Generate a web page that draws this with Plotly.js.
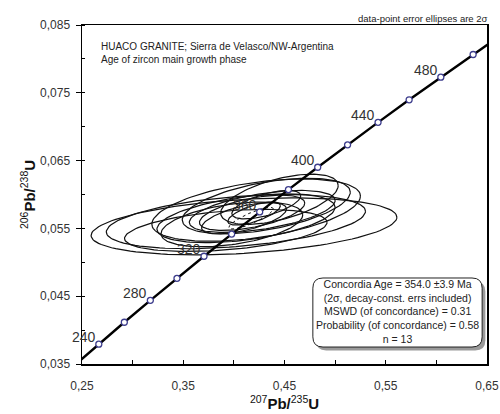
<!DOCTYPE html>
<html>
<head>
<meta charset="utf-8">
<script src="https://cdn.plot.ly/plotly-3.0.1.min.js"></script>
<style>html,body{margin:0;padding:0;background:#fff}#chart{width:500px;height:414px}</style>
</head>
<body>
<div id="chart"></div>
<script>
// Concordia curve points (age in Ma, 207Pb/235U, 206Pb/238U)
const curveAges   = [220, 240, 260, 280, 300, 320, 340, 360, 380, 400, 420, 440, 460, 480, 500, 520];
const curveX      = [0.2419, 0.2666, 0.2918, 0.3175, 0.3438, 0.3705, 0.3978, 0.4255, 0.4539, 0.4828, 0.5123, 0.5424, 0.5731, 0.6044, 0.6363, 0.6688];
const curveY      = [0.03472, 0.03793, 0.04116, 0.04439, 0.04764, 0.05089, 0.05416, 0.05743, 0.06072, 0.06402, 0.06732, 0.07064, 0.07397, 0.07730, 0.08065, 0.08401];
const markerAges  = [240, 260, 280, 300, 320, 340, 360, 380, 400, 420, 440, 460, 480, 500];
const labelAges   = [240, 280, 320, 360, 400, 440, 480];

// Data-point error ellipses (2σ): centre, half-widths, correlation
const ellCX  = [0.410, 0.402, 0.422, 0.432, 0.412, 0.428, 0.398, 0.445, 0.418, 0.410, 0.432, 0.420, 0.392];
const ellCY  = [0.0553, 0.0560, 0.0577, 0.0583, 0.0565, 0.0575, 0.0556, 0.0593, 0.0573, 0.0565, 0.0585, 0.0572, 0.0547];
const ellSX  = [0.151, 0.128, 0.103, 0.083, 0.088, 0.072, 0.070, 0.058, 0.052, 0.042, 0.034, 0.026, 0.100];
const ellSY  = [0.0042, 0.0040, 0.0046, 0.0041, 0.0036, 0.0031, 0.0033, 0.0037, 0.0026, 0.0023, 0.0021, 0.0017, 0.0031];
const ellRho = [0.32, 0.38, 0.45, 0.50, 0.45, 0.52, 0.42, 0.55, 0.55, 0.60, 0.62, 0.68, 0.38];

// Concordia age ellipse
const ageCX = 0.417, ageCY = 0.0565, ageSX = 0.022, ageSY = 0.0016, ageRho = 0.85;

const xTickVals = [0.25, 0.35, 0.45, 0.55, 0.65];
const yTickVals = [0.035, 0.045, 0.055, 0.065, 0.075, 0.085];

function ellipse(cx, cy, sx, sy, rho) {
  const xs = [], ys = [];
  const n = 120, k = Math.sqrt(1 - rho * rho);
  for (let i = 0; i <= n; i++) {
    const t = 2 * Math.PI * i / n;
    xs.push(cx + sx * Math.cos(t));
    ys.push(cy + sy * (rho * Math.cos(t) + k * Math.sin(t)));
  }
  return {xs, ys};
}

const traces = [];
for (let i = 0; i < ellCX.length; i++) {
  const e = ellipse(ellCX[i], ellCY[i], ellSX[i], ellSY[i], ellRho[i]);
  traces.push({x: e.xs, y: e.ys, mode: 'lines', line: {color: '#111', width: 1.2}, hoverinfo: 'skip', showlegend: false});
}
const ea = ellipse(ageCX, ageCY, ageSX, ageSY, ageRho);
traces.push({x: ea.xs, y: ea.ys, mode: 'lines', line: {color: '#111', width: 1, dash: 'dot'}, hoverinfo: 'skip', showlegend: false});

traces.push({x: curveX, y: curveY, mode: 'lines', line: {color: '#000', width: 2.4}, showlegend: false, hoverinfo: 'skip'});
const mx = [], my = [];
markerAges.forEach(a => { const j = curveAges.indexOf(a); mx.push(curveX[j]); my.push(curveY[j]); });
traces.push({x: mx, y: my, mode: 'markers', marker: {symbol: 'circle', size: 6, color: '#fff', line: {color: '#3c3c8c', width: 1.3}}, showlegend: false});

const annotations = labelAges.map(a => {
  const j = curveAges.indexOf(a);
  return {x: curveX[j], y: curveY[j], xref: 'x', yref: 'y', text: String(a), showarrow: false,
    xanchor: 'right', yanchor: 'bottom', xshift: -1, yshift: -3,
    font: {family: 'Liberation Sans, Arial, sans-serif', size: 14, color: '#333'}};
});
annotations.push({xref: 'paper', yref: 'paper', x: 0.042, y: 0.9174, xanchor: 'left', yanchor: 'middle', align: 'left', showarrow: false,
  text: 'HUACO GRANITE; Sierra de Velasco/NW-Argentina<br>Age of zircon main growth phase',
  font: {family: 'Liberation Sans, Arial, sans-serif', size: 10, color: '#222'}});
annotations.push({xref: 'paper', yref: 'paper', x: 1.007, y: 1.0177, xanchor: 'right', yanchor: 'middle', showarrow: false,
  text: 'data-point error ellipses are 2σ',
  font: {family: 'Liberation Sans, Arial, sans-serif', size: 9.5, color: '#222'}});
annotations.push({xref: 'paper', yref: 'paper', x: 0.778, y: 0.1534, xanchor: 'center', yanchor: 'middle', align: 'center', showarrow: false,
  text: 'Concordia Age = 354.0 ±3.9 Ma<br>(2σ, decay-const. errs included)<br>MSWD (of concordance) = 0.31<br>Probability (of concordance) = 0.58<br>n = 13',
  font: {family: 'Liberation Sans, Arial, sans-serif', size: 10.5, color: '#222'}});

function roundRect(x0, y0, x1, y1, rx, ry) {
  return `M${x0+rx},${y0} L${x1-rx},${y0} Q${x1},${y0} ${x1},${y0+ry} L${x1},${y1-ry} Q${x1},${y1} ${x1-rx},${y1} L${x0+rx},${y1} Q${x0},${y1} ${x0},${y1-ry} L${x0},${y0+ry} Q${x0},${y0} ${x0+rx},${y0} Z`;
}
const bx0 = 0.570, bx1 = 0.988, by0 = 0.0501, by1 = 0.2537, rx = 0.025, ry = 0.03;
const shapes = [
  {type: 'path', xref: 'paper', yref: 'paper', path: roundRect(bx0 + 0.008, by0 - 0.010, bx1 + 0.008, by1 - 0.010, rx, ry), fillcolor: '#9a9a9a', line: {width: 0}},
  {type: 'path', xref: 'paper', yref: 'paper', path: roundRect(bx0, by0, bx1, by1, rx, ry), fillcolor: '#fff', line: {color: '#222', width: 1}}
];

const font = {family: 'Liberation Sans, Arial, sans-serif', size: 12, color: '#333'};
const layout = {
  width: 500, height: 414,
  margin: {l: 82, r: 13, t: 25, b: 50},
  paper_bgcolor: '#fff', plot_bgcolor: '#fff',
  separators: ',.',
  font: font,
  xaxis: {range: [0.25, 0.65], tickvals: xTickVals, tickformat: '.2f', showgrid: false, zeroline: false,
    showline: true, mirror: true, linecolor: '#000', linewidth: 1.5,
    ticks: 'inside', ticklen: 4, tickcolor: '#000', ticklabelstandoff: 10,
    minor: {dtick: 0.05, tick0: 0.25, ticks: 'inside', ticklen: 4, tickcolor: '#000', showgrid: false},
    title: {text: '<sup>207</sup><b>Pb/</b><sup>235</sup><b>U</b>', font: {family: 'Liberation Sans, Arial, sans-serif', size: 15, color: '#111'}, standoff: 6}},
  yaxis: {range: [0.035, 0.085], tickvals: yTickVals, tickformat: '.3f', showgrid: false, zeroline: false,
    showline: true, mirror: true, linecolor: '#000', linewidth: 1.5,
    ticks: 'outside', ticklen: 5, tickcolor: '#000', ticklabelstandoff: 3,
    minor: {dtick: 0.005, tick0: 0.035, ticks: 'inside', ticklen: 3, tickcolor: '#000', showgrid: false},
    title: {text: '<sup>206</sup><b>Pb/</b><sup>238</sup><b>U</b>', font: {family: 'Liberation Sans, Arial, sans-serif', size: 15, color: '#111'}, standoff: 1}},
  annotations: annotations,
  shapes: shapes,
  showlegend: false
};
Plotly.newPlot('chart', traces, layout, {displayModeBar: false, staticPlot: true});
</script>
</body>
</html>
